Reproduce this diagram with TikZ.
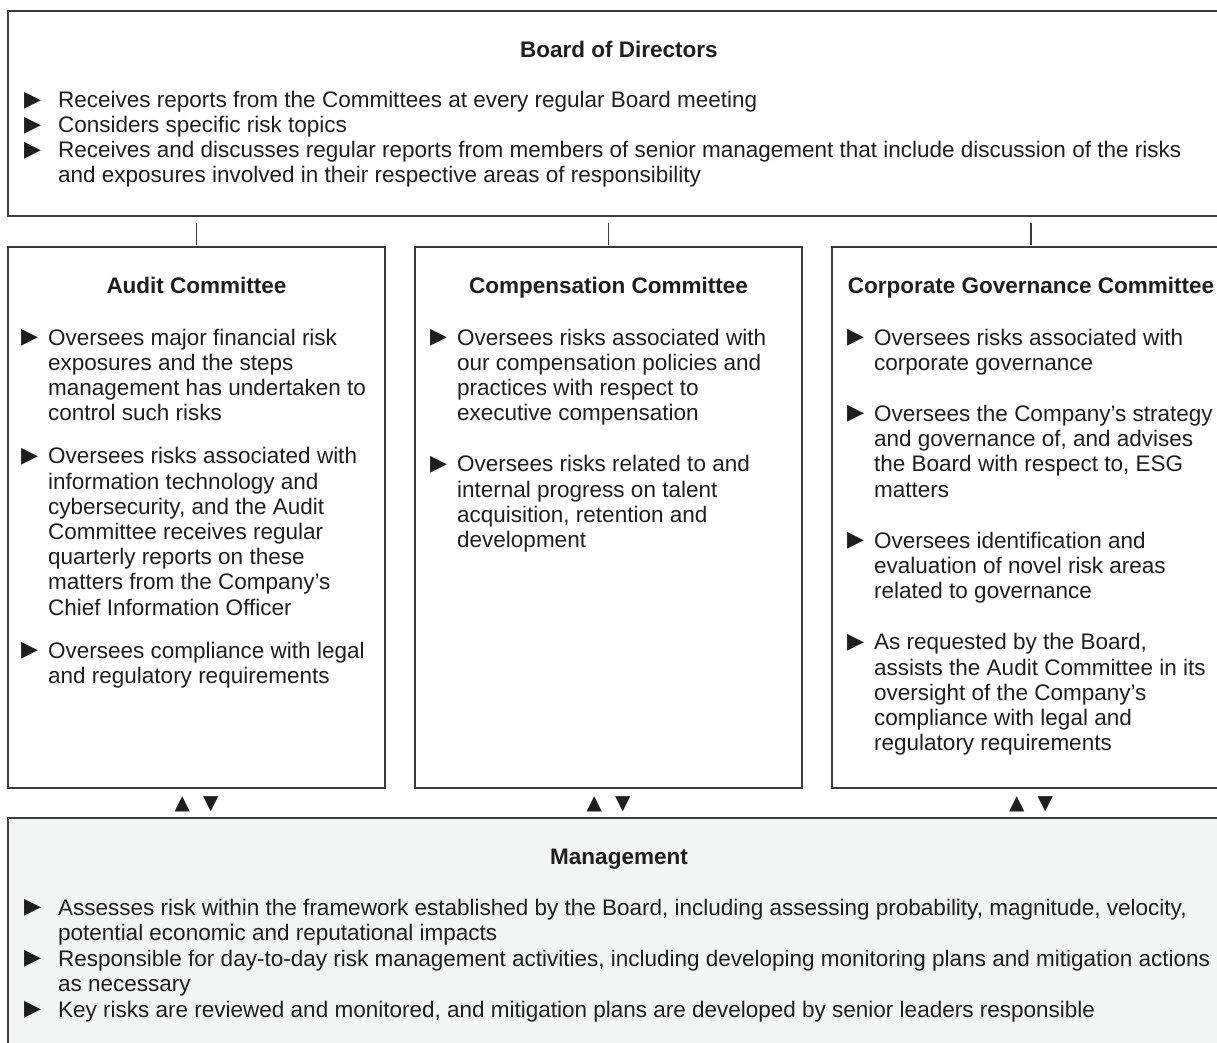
\documentclass[tikz,border=0pt]{standalone}
\usepackage{fontspec}
\setmainfont{Liberation Sans}
\newfontfamily\symf{DejaVu Sans}
\usetikzlibrary{calc}
\definecolor{linec}{HTML}{3C3C3C}
\definecolor{txtc}{HTML}{1E1E1E}
\definecolor{mgmtfill}{HTML}{F3F4F4}
\newcommand{\bulg}{\raisebox{1.5pt}{\symf\fontsize{22}{24}\selectfont ▶}}
\newcommand{\bB}{\makebox[34pt][l]{\bulg}}
\newcommand{\bC}{\makebox[27pt][l]{\bulg}}
\newcommand{\rows}[1]{\begin{tabular}[t]{@{}l@{}l@{}}#1\end{tabular}}
\tikzset{
  box/.style={draw=linec, line width=1.3pt, inner sep=0pt, outer sep=0pt, anchor=north west},
  title/.style={inner sep=0pt, anchor=base, text=txtc, font=\fontsize{22.5}{26}\selectfont\bfseries},
  listtxt/.style={inner sep=0pt, anchor=base west, text=txtc, font=\fontsize{22.5}{25.2}\selectfont},
  mgmttxt/.style={inner sep=0pt, anchor=base west, text=txtc, font=\fontsize{22.5}{25.5}\selectfont},
  conn/.style={draw=linec, line width=1.3pt},
  tri/.style={inner sep=0pt, anchor=center, text=txtc, font=\symf\fontsize{20}{24}\selectfont}
}
\begin{document}
\begin{tikzpicture}[x=1pt,y=-1pt]
\useasboundingbox (0,0) rectangle (1217,1043);
\clip (0,0) rectangle (1217,1043);
% boxes
\node[box, minimum width=1222pt, minimum height=205pt] (board) at (8,11) {};
\node[box, minimum width=377pt, minimum height=541pt] (audit) at (8,247) {};
\node[box, minimum width=387pt, minimum height=541pt] (comp) at (415,247) {};
\node[box, minimum width=398pt, minimum height=541pt] (corp) at (832,247) {};
\node[box, fill=mgmtfill, minimum width=1222pt, minimum height=260pt] (mgmt) at (8,818) {};
% board
\node[title] (boardt) at (619,58) {Board of Directors};
\node[listtxt, font=\fontsize{22.5}{25}\selectfont] (boardl) at (24,108) {\rows{%
\bB & Receives reports from the Committees at every regular Board meeting\\
\bB & Considers specific risk topics\\
\bB & Receives and discusses regular reports from members of senior management that include discussion of the risks\\
 & and exposures involved in their respective areas of responsibility}};
% audit
\node[title] (auditt) at (196.5,293) {Audit Committee};
\node[listtxt] (auditl) at (21,345) {\rows{%
\bC & Oversees major financial risk\\
 & exposures and the steps\\
 & management has undertaken to\\
 & control such risks\\[18pt]
\bC & Oversees risks associated with\\
 & information technology and\\
 & cybersecurity, and the Audit\\
 & Committee receives regular\\
 & quarterly reports on these\\
 & matters from the Company’s\\
 & Chief Information Officer\\[18pt]
\bC & Oversees compliance with legal\\
 & and regulatory requirements}};
% compensation
\node[title] (compt) at (608.5,293) {Compensation Committee};
\node[listtxt] (compl) at (430,345) {\rows{%
\bC & Oversees risks associated with\\
 & our compensation policies and\\
 & practices with respect to\\
 & executive compensation\\[26pt]
\bC & Oversees risks related to and\\
 & internal progress on talent\\
 & acquisition, retention and\\
 & development}};
% corporate governance
\node[title] (corpt) at (1031,293) {Corporate Governance Committee};
\node[listtxt] (corpl) at (847,345) {\rows{%
\bC & Oversees risks associated with\\
 & corporate governance\\[26pt]
\bC & Oversees the Company’s strategy\\
 & and governance of, and advises\\
 & the Board with respect to, ESG\\
 & matters\\[26pt]
\bC & Oversees identification and\\
 & evaluation of novel risk areas\\
 & related to governance\\[26pt]
\bC & As requested by the Board,\\
 & assists the Audit Committee in its\\
 & oversight of the Company’s\\
 & compliance with legal and\\
 & regulatory requirements}};
% management
\node[title] (mgmtt) at (619,864) {Management};
\node[mgmttxt] (mgmtl) at (24,915) {\rows{%
\bB & Assesses risk within the framework established by the Board, including assessing probability, magnitude, velocity,\\
 & potential economic and reputational impacts\\
\bB & Responsible for day-to-day risk management activities, including developing monitoring plans and mitigation actions\\
 & as necessary\\
\bB & Key risks are reviewed and monitored, and mitigation plans are developed by senior leaders responsible}};
% connectors board -> committees
\draw[conn] ($(board.south -| audit.north)+(0,7)$) -- ($(audit.north)+(0,-2)$);
\draw[conn] ($(board.south -| comp.north)+(0,7)$) -- ($(comp.north)+(0,-2)$);
\draw[conn] ($(board.south -| corp.north)+(0,7)$) -- ($(corp.north)+(0,-2)$);
% two-way markers committees <-> management
\node[tri] (ta) at ($(audit.south)+(0,16)$) {▲\hspace{13pt}▼};
\node[tri] (tc) at ($(comp.south)+(0,16)$) {▲\hspace{13pt}▼};
\node[tri] (tg) at ($(corp.south)+(0,16)$) {▲\hspace{13pt}▼};
\end{tikzpicture}
\end{document}
